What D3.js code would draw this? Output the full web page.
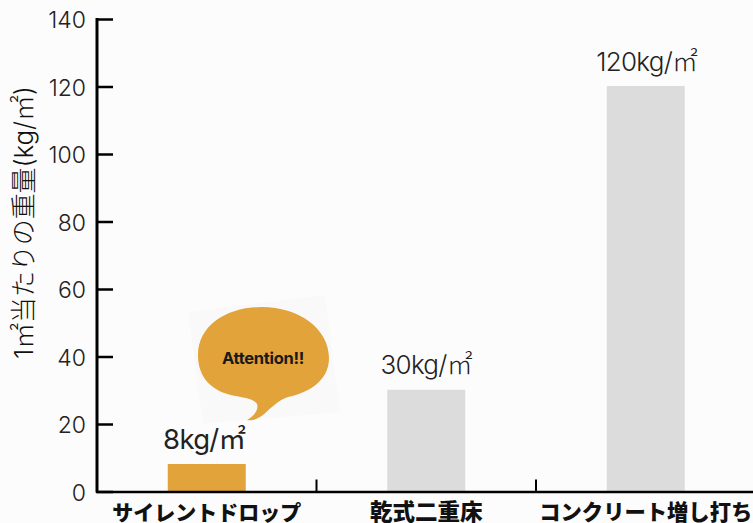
<!DOCTYPE html>
<html><head><meta charset="utf-8">
<script src="https://cdnjs.cloudflare.com/ajax/libs/d3/7.8.5/d3.min.js"></script>
<style>html,body{margin:0;padding:0;background:#fcfcfc}svg{display:block}
text{font-family:Inter,"Noto Sans CJK JP",sans-serif;fill:#222}</style></head>
<body><svg id="c" width="753" height="523"></svg>
<script>
const categories=["サイレントドロップ","乾式二重床","コンクリート増し打ち"];
const categorySizes=[21,22.5,21.3];
const values=[8,30,120];
const valueLabels=["8kg/㎡","30kg/㎡","120kg/㎡"];
const labelWeights=[400,300,300];
const labelSizes=[27.5,26,26];
const labelShifts=[-2.5,0,1];
const barColors=["#e2a33a","#dbdcdb","#dbdcdb"];
const yTicks=[0,20,40,60,80,100,120,140];
const axisTitle="1㎡当たりの重量(kg/㎡)";
const note="Attention!!";

const svg=d3.select("#c");
const y=d3.scaleLinear().domain([0,140]).range([491.5,19]);
const x=d3.scaleBand().domain(categories).range([97,755.5]).paddingInner(0).paddingOuter(0);
const bw=78;

svg.selectAll("rect.bar").data(categories).join("rect").attr("class","bar")
 .attr("x",d=>x(d)+x.bandwidth()/2-bw/2).attr("width",bw)
 .attr("y",(d,i)=>y(values[i])-0.5).attr("height",(d,i)=>y(0)-y(values[i]))
 .attr("fill",(d,i)=>barColors[i]);

const defs=svg.append("defs");
defs.append("filter").attr("id","soft").append("feGaussianBlur").attr("stdDeviation",0.6);
const note_g=svg.append("g");
note_g.append("path").attr("d","M188,312L325,295L340,412L203,424Z").attr("fill","#f9f9f9");
note_g.append("path").attr("filter","url(#soft)").attr("fill","#e2a33a")
 .attr("d","M198,355C198,326 226,307 262,307C298,307 329,328 329,358C329,382 307,393 288,397C278,400 270,409 263,415C258,419 252,421 247,420C254,416 259,410 257,404C254,399 246,398 236,396C212,392 198,378 198,355Z");
note_g.append("text").attr("x",263).attr("y",363.5).attr("text-anchor","middle")
 .attr("font-size",16.5).attr("font-weight",700).style("fill","#1a1a1a").style("letter-spacing","-0.3px").text(note);

const ya=svg.append("g").attr("transform","translate(97,0)")
 .call(d3.axisRight(y).tickValues(yTicks).tickSize(16).tickFormat(""));
ya.select(".domain").remove();
ya.selectAll("line").attr("stroke","#000").attr("stroke-width",2.5);
svg.append("line").attr("x1",97).attr("x2",97).attr("y1",y(140)-1).attr("y2",y(0)+1).attr("stroke","#000").attr("stroke-width",3);
svg.selectAll("text.yt").data(yTicks).join("text").attr("class","yt")
 .attr("x",86).attr("y",d=>y(d)+9).attr("text-anchor","end").attr("font-size",23).attr("font-weight",300).text(d=>d);

svg.append("line").attr("x1",96).attr("x2",753).attr("y1",y(0)+0.5).attr("y2",y(0)+0.5).attr("stroke","#000").attr("stroke-width",2.5);
svg.selectAll("line.xt").data(categories.slice(1)).join("line").attr("class","xt")
 .attr("x1",d=>x(d)).attr("x2",d=>x(d)).attr("y1",y(0)-12).attr("y2",y(0)).attr("stroke","#000").attr("stroke-width",2);
svg.selectAll("text.xl").data(categories).join("text").attr("class","xl")
 .attr("x",d=>x(d)+x.bandwidth()/2).attr("y",520).attr("text-anchor","middle")
 .attr("font-size",(d,i)=>categorySizes[i]).attr("font-weight",900).style("fill","#111").text(d=>d);

svg.selectAll("text.vl").data(categories).join("text").attr("class","vl")
 .attr("x",(d,i)=>x(d)+x.bandwidth()/2+labelShifts[i]).attr("y",(d,i)=>y(values[i])-16)
 .attr("text-anchor","middle").attr("font-size",(d,i)=>labelSizes[i]).attr("font-weight",(d,i)=>labelWeights[i])
 .style("letter-spacing","-0.7px").text((d,i)=>valueLabels[i]);

svg.append("text").attr("transform","translate(33,359) rotate(-90)").attr("font-size",26).attr("font-weight",300).style("fill","#111").style("letter-spacing","-0.1px").text(axisTitle);
</script></body></html>
